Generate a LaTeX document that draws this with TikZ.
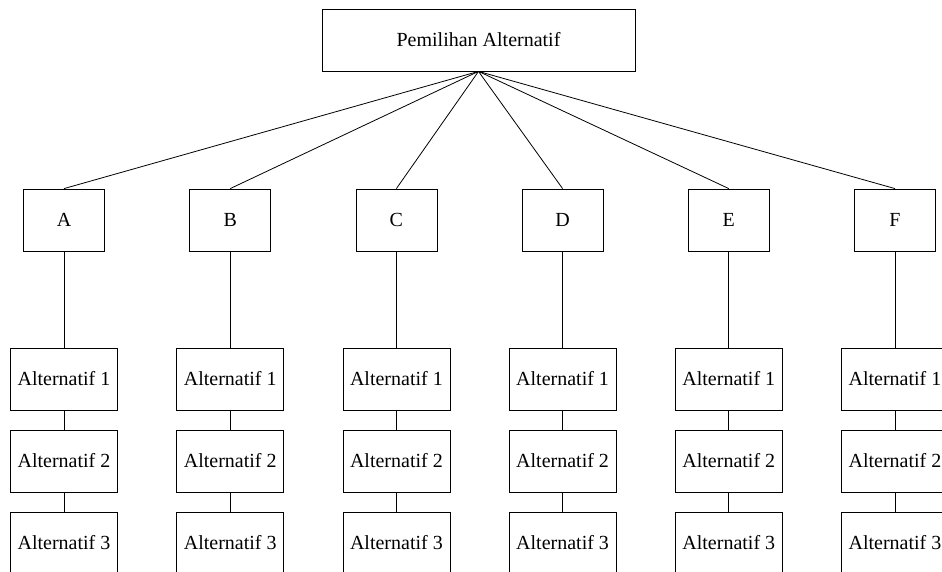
\documentclass[tikz,border=0pt]{standalone}
\usepackage{fontspec}
\setmainfont{Liberation Serif}
\begin{document}
\begin{tikzpicture}[x=1pt,y=-1pt,
  box/.style={draw=black,line width=0.8pt,inner sep=0pt,font=\fontsize{20}{24}\selectfont,minimum height=62pt},
  topbox/.style={box,minimum width=313pt},
  letterbox/.style={box,minimum width=81pt},
  altbox/.style={box,minimum width=107pt},
  link/.style={draw=black,line width=0.8pt}]
  \clip (0,0) rectangle (942,572);
  \fill[white] (0,0) rectangle (942,572);
  \node[topbox] (top) at (478.5,40) {Pemilihan Alternatif};
  \foreach \L [count=\i from 0] in {A,B,C,D,E,F}{
    \pgfmathsetmacro{\cx}{64+166.2*\i}
    \node[letterbox] (\L) at (\cx,220) {\L};
    \node[altbox] (\L1) at (\cx,379) {Alternatif 1};
    \node[altbox] (\L2) at (\cx,461) {Alternatif 2};
    \node[altbox] (\L3) at (\cx,543) {Alternatif 3};
    \draw[link] (top.south) -- (\L.north);
    \draw[link] (\L.south) -- (\L1.north);
    \draw[link] (\L1.south) -- (\L2.north);
    \draw[link] (\L2.south) -- (\L3.north);
  }
\end{tikzpicture}
\end{document}
